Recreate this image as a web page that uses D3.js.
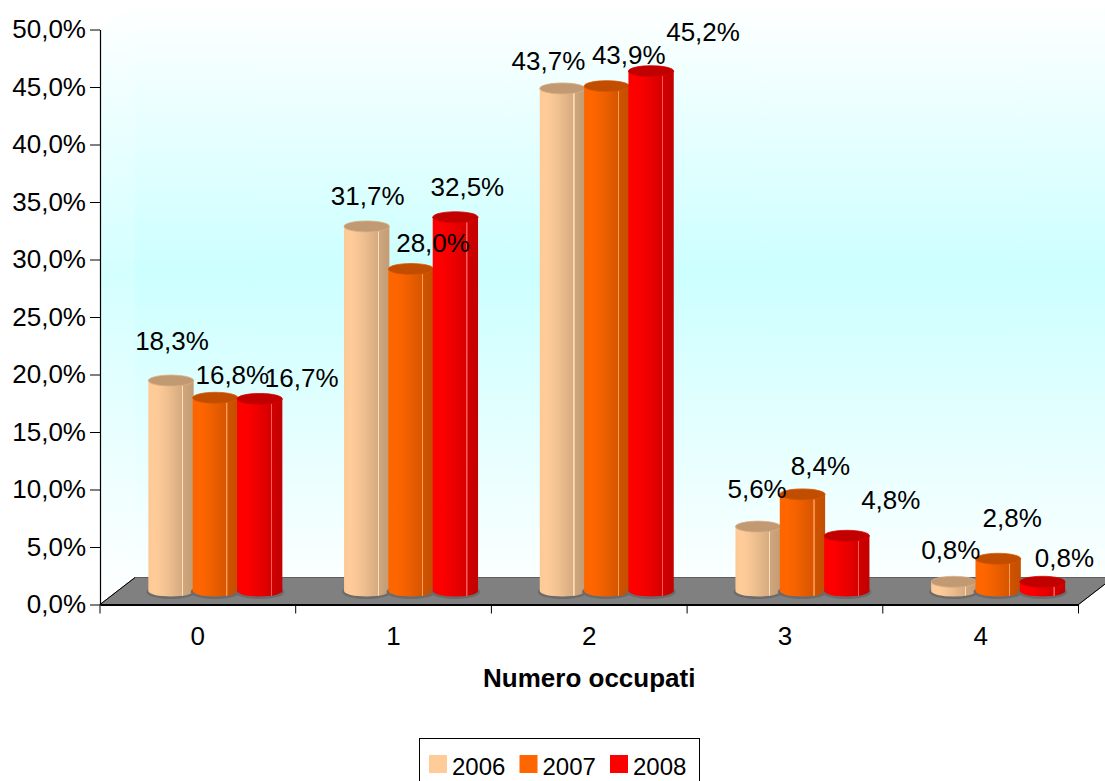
<!DOCTYPE html>
<html>
<head>
<meta charset="utf-8">
<script src="https://cdn.jsdelivr.net/npm/d3@7"></script>
<style>
  html, body { margin: 0; padding: 0; background: #fff; }
  svg { display: block; font-family: "Liberation Sans", Arial, sans-serif; }
</style>
</head>
<body>
<svg id="chart" width="1105" height="781"></svg>
<script>
// ---- data ----
const categories = ["0", "1", "2", "3", "4"];
const years = ["2006", "2007", "2008"];
const values2006 = [18.3, 31.7, 43.7, 5.6, 0.8];
const values2007 = [16.8, 28.0, 43.9, 8.4, 2.8];
const values2008 = [16.7, 32.5, 45.2, 4.8, 0.8];
const yTicks = [0, 5, 10, 15, 20, 25, 30, 35, 40, 45, 50];
const xTitle = "Numero occupati";

const seriesValues = [values2006, values2007, values2008];
const seriesColors = ["#FFCC99", "#FF6600", "#FF0000"];

// ---- layout ----
const W = 1105, H = 781;
const plotLeft = 100, plotRight = 1078.5, plotBase = 604.5, plotTop = 29.5;
const depthX = 35, depthY = -27;          // oblique depth of the 3D box
const ry = 5.5;                            // cylinder cap ellipse half-height

// nudges for the value labels, per category / series
const labelNudge = [
  [[1, -40], [17, -23], [42, -21]],
  [[1, -31], [22, -26], [12, -30]],
  [[-14, -28], [22, -31], [52, -39]],
  [[-1, -38], [18, -29], [44, -36]],
  [[-3, -32], [14, -41], [22, -24]]
];

const svg = d3.select("#chart");
const defs = svg.append("defs");

const x = d3.scaleBand().domain(categories).range([plotLeft, plotRight]).padding(0);
const y = d3.scaleLinear().domain([0, 50]).range([plotBase, plotTop]);
const inner = d3.scaleBand().domain(years).range([-66.5, 66.5]);
const fmt = v => d3.format(".1f")(v).replace(".", ",") + "%";

// ---- wall gradient ----
const wallGrad = defs.append("linearGradient")
  .attr("id", "wallGrad").attr("gradientUnits", "userSpaceOnUse")
  .attr("x1", 0).attr("y1", 0).attr("x2", 0).attr("y2", plotBase);
wallGrad.append("stop").attr("offset", 0).attr("stop-color", "#FFFFFF");
wallGrad.append("stop").attr("offset", 0.45).attr("stop-color", "#CCFFFF");
wallGrad.append("stop").attr("offset", 1).attr("stop-color", "#FFFFFF");

// back wall
svg.append("rect")
  .attr("x", plotLeft + depthX).attr("y", plotTop + depthY)
  .attr("width", W - (plotLeft + depthX) + 40)
  .attr("height", plotBase - plotTop)
  .attr("fill", "url(#wallGrad)");

// side wall
svg.append("polygon")
  .attr("points", [[plotLeft, plotBase], [plotLeft, plotTop], [plotLeft + depthX, plotTop + depthY], [plotLeft + depthX, plotBase + depthY]].join(" "))
  .attr("fill", "url(#wallGrad)").attr("opacity", 0.85);

// floor
svg.append("polygon")
  .attr("points", [[plotLeft, plotBase], [plotRight, plotBase], [plotRight + depthX, plotBase + depthY], [plotLeft + depthX, plotBase + depthY]].join(" "))
  .attr("fill", "#808080").attr("stroke", "#5f5f5f").attr("stroke-width", 1);
svg.append("line")
  .attr("x1", plotLeft).attr("y1", plotBase).attr("x2", plotLeft + depthX).attr("y2", plotBase + depthY)
  .attr("stroke", "#000").attr("stroke-width", 1);
svg.append("line")
  .attr("x1", plotRight).attr("y1", plotBase).attr("x2", plotRight + depthX).attr("y2", plotBase + depthY)
  .attr("stroke", "#000").attr("stroke-width", 1);

// ---- cylinder gradients ----
seriesColors.forEach((c, i) => {
  const light = d3.rgb(c);
  const dark = light.darker(0.75);
  const mix = d3.interpolateRgb(light, dark);
  const g = defs.append("linearGradient").attr("id", "cyl" + i)
    .attr("x1", 0).attr("y1", 0).attr("x2", 1).attr("y2", 0);
  const stops = [
    [0, mix(0.05)], [0.14, mix(0)], [0.3, mix(0.12)], [0.45, mix(0.3)],
    [0.6, mix(0.5)], [0.74, mix(0.68)], [0.745, d3.interpolateRgb(light, "#ffffff")(0.35)],
    [0.765, d3.interpolateRgb(light, "#ffffff")(0.35)], [0.77, mix(0.8)], [1, mix(1)]
  ];
  stops.forEach(([o, col]) => g.append("stop").attr("offset", o).attr("stop-color", col));
});
const capColor = seriesColors.map(c => d3.rgb(c).darker(0.78).formatHex());

// ---- bars ----
const barData = [];
categories.forEach((cat, ci) => {
  years.forEach((yr, si) => {
    const v = seriesValues[si][ci];
    const cx = x(cat) + x.bandwidth() / 2 + depthX / 2 + inner(yr) + inner.bandwidth() / 2;
    barData.push({ cat, ci, yr, si, v, cx,
      w: inner.bandwidth() + 1,
      yTop: y(v) + depthY / 2,
      yBase: y(0) + depthY / 2 });
  });
});

const bars = svg.append("g").selectAll("g.bar").data(barData).join("g").attr("class", "bar");

// shadow on floor
bars.append("ellipse")
  .attr("cx", d => d.cx).attr("cy", d => d.yBase + 1)
  .attr("rx", d => d.w / 2 + 2).attr("ry", ry + 1.5)
  .attr("fill", "#6b6b6b");

// body
bars.append("path")
  .attr("d", d => {
    const l = d.cx - d.w / 2, r = d.cx + d.w / 2;
    return `M${l},${d.yTop} L${l},${d.yBase} A${d.w / 2},${ry} 0 0 0 ${r},${d.yBase} L${r},${d.yTop} Z`;
  })
  .attr("fill", d => `url(#cyl${d.si})`);

// cap
bars.append("ellipse")
  .attr("cx", d => d.cx).attr("cy", d => d.yTop)
  .attr("rx", d => d.w / 2).attr("ry", ry)
  .attr("fill", d => capColor[d.si])
  .attr("stroke", d => d3.interpolateRgb(capColor[d.si], seriesColors[d.si])(0.4))
  .attr("stroke-width", 0.8);

// value labels
svg.append("g").selectAll("text").data(barData).join("text")
  .attr("x", d => d.cx + labelNudge[d.ci][d.si][0])
  .attr("y", d => d.yTop + labelNudge[d.ci][d.si][1])
  .attr("dy", "0.35em")
  .attr("text-anchor", "middle")
  .attr("font-size", 26)
  .attr("fill", "#000")
  .text(d => fmt(d.v));

// ---- y axis ----
const yAxis = svg.append("g")
  .attr("transform", `translate(${plotLeft},0)`)
  .call(d3.axisLeft(y).tickValues(yTicks).tickFormat(fmt).tickSize(10).tickSizeOuter(0).tickPadding(4));
yAxis.select(".domain").attr("stroke", "#000").attr("stroke-width", 1.2);
yAxis.selectAll(".tick line").attr("stroke", "#000");
yAxis.selectAll(".tick text").attr("font-size", 26).attr("fill", "#000")
  .attr("font-family", "'Liberation Sans', Arial, sans-serif");

// ---- x axis ----
const xAxis = svg.append("g")
  .attr("transform", `translate(0,${plotBase})`)
  .call(d3.axisBottom(x).tickSize(0).tickPadding(22));
xAxis.select(".domain").attr("stroke", "#000").attr("stroke-width", 2);
xAxis.selectAll(".tick text").attr("font-size", 26).attr("fill", "#000")
  .attr("font-family", "'Liberation Sans', Arial, sans-serif");
const boundaries = categories.map(c => x(c)).concat([x(categories[categories.length - 1]) + x.bandwidth()]);
xAxis.selectAll("line.sep").data(boundaries).join("line").attr("class", "sep")
  .attr("x1", d => d).attr("x2", d => d).attr("y1", 0).attr("y2", 9)
  .attr("stroke", "#000").attr("stroke-width", 1);

// axis title
svg.append("text")
  .attr("x", (plotLeft + plotRight) / 2).attr("y", 687)
  .attr("text-anchor", "middle")
  .attr("font-size", 26).attr("font-weight", "bold")
  .text(xTitle);

// ---- legend ----
const legend = svg.append("g");
legend.append("rect")
  .attr("x", 419.5).attr("y", 738.5).attr("width", 280).attr("height", 60)
  .attr("fill", "#fff").attr("stroke", "#000").attr("stroke-width", 1);
const legendX = d3.scalePoint().domain(years).range([429, 610]);
const items = legend.selectAll("g").data(years).join("g")
  .attr("transform", d => `translate(${legendX(d)},755)`);
items.append("rect").attr("width", 18).attr("height", 18)
  .attr("fill", (d, i) => seriesColors[i]);
items.append("text").attr("x", 23).attr("y", 12).attr("dy", "0.35em")
  .attr("font-size", 24).text(d => d);
</script>
</body>
</html>
